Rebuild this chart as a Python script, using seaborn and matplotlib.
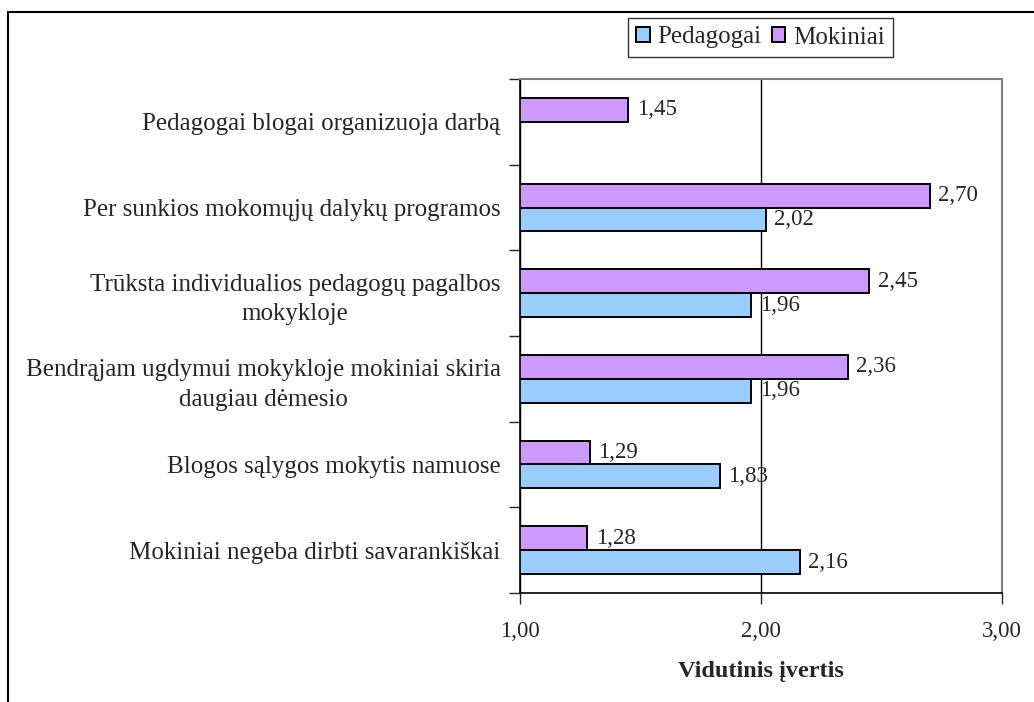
import numpy as np
import pandas as pd
import matplotlib
matplotlib.use("Agg")
import matplotlib.pyplot as plt
from matplotlib.patches import Rectangle
import seaborn as sns

categories = [
    "Pedagogai blogai organizuoja darbą",
    "Per sunkios mokomųjų dalykų programos",
    "Trūksta individualios pedagogų pagalbos\nmokykloje",
    "Bendrąjam ugdymui mokykloje mokiniai skiria\ndaugiau dėmesio",
    "Blogos sąlygos mokytis namuose",
    "Mokiniai negeba dirbti savarankiškai",
]
pedagogai = [np.nan, 2.02, 1.96, 1.96, 1.83, 2.16]
mokiniai = [1.45, 2.70, 2.45, 2.36, 1.29, 1.28]
x_ticks = [1.0, 2.0, 3.0]
x_tick_labels = ["1,00", "2,00", "3,00"]

df = pd.DataFrame({
    "kategorija": categories * 2,
    "grupe": ["Mokiniai"] * len(categories) + ["Pedagogai"] * len(categories),
    "vertis": mokiniai + pedagogai,
})

sns.set_style("ticks")
plt.rcParams["font.family"] = ["Liberation Serif", "DejaVu Serif"]

fig = plt.figure(figsize=(10.34, 7.02), dpi=100)
ax = fig.add_axes([520 / 1034, 1 - 593 / 702, 482 / 1034, 514 / 702])

sns.barplot(data=df, y="kategorija", x="vertis", hue="grupe",
            order=categories, hue_order=["Mokiniai", "Pedagogai"],
            palette={"Mokiniai": "#CC99FF", "Pedagogai": "#99CCFF"},
            saturation=1, orient="h", width=0.56, edgecolor="black",
            linewidth=1.4, errorbar=None, ax=ax)

for cont in ax.containers:
    ax.bar_label(cont, fmt=lambda v: f"{v:.2f}".replace(".", ","),
                 padding=6, fontsize=16.5)

ax.set_xlim(1, 3)
ax.set_ylim(5.5, -0.5)
ax.set_xticks(x_ticks, x_tick_labels)
ax.tick_params(axis="x", length=8, width=1, pad=12, labelsize=16.5)

# category labels, ticks between the groups
ax.set_yticks(range(len(categories)), categories)
ax.set_yticks(np.arange(-0.5, len(categories), 1), minor=True)
ax.tick_params(axis="y", which="major", length=0, pad=14, labelsize=18)
ax.tick_params(axis="y", which="minor", length=8, width=1)
for lbl in ax.get_yticklabels():
    lbl.set_multialignment("center")
    lbl.set_linespacing(1.45)

ax.set_ylabel("")
ax.set_xlabel("Vidutinis įvertis", fontsize=17.5, fontweight="bold", labelpad=14)

ax.xaxis.grid(True, color="black", linewidth=1)
ax.set_axisbelow(True)
ax.get_xgridlines()[-1].set_color("#808080")

for side in ["left", "bottom"]:
    ax.spines[side].set_color("black")
    ax.spines[side].set_linewidth(1.2)
for side in ["top", "right"]:
    ax.spines[side].set_visible(True)
    ax.spines[side].set_color("#808080")
    ax.spines[side].set_linewidth(1.5)

handles, labels = ax.get_legend_handles_labels()
order = [labels.index("Pedagogai"), labels.index("Mokiniai")]
leg = ax.legend([handles[i] for i in order], [labels[i] for i in order],
                loc="center", bbox_to_anchor=(760.5 / 1034, 1 - 37.5 / 702),
                bbox_transform=fig.transFigure, ncol=2, fontsize=18,
                frameon=True, fancybox=False, edgecolor="black",
                handlelength=0.55, handleheight=0.55, handletextpad=0.3,
                columnspacing=0.4, borderpad=0.35, borderaxespad=0)
leg.get_frame().set_linewidth(1)

# outer chart border (cut at right and bottom)
fig.patches.append(Rectangle((8 / 1034, -0.1), 1.2, 1 - 12 / 702 + 0.1,
                             transform=fig.transFigure, fill=False,
                             edgecolor="black", linewidth=1.5))

fig.savefig("out.png", dpi=100)
